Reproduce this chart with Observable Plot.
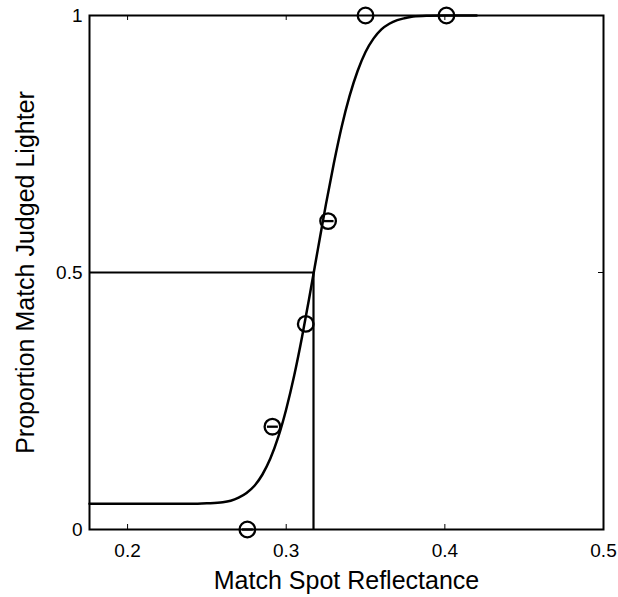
<!DOCTYPE html>
<html><head><meta charset="utf-8">
<script src="https://cdn.jsdelivr.net/npm/d3@7"></script>
<script src="https://cdn.jsdelivr.net/npm/@observablehq/plot@0.6"></script>
<style>body{margin:0;background:#fff}</style>
</head><body><div id="chart"></div>
<script>
// Observed data points
const pointX = [0.2755, 0.2913, 0.3123, 0.3264, 0.350, 0.401];
const pointY = [0, 0.2, 0.4, 0.6, 1, 1];
const pointDash = [true, true, false, true, false, false];
// Fitted psychometric curve
const curveX = [0.176, 0.20, 0.22, 0.24, 0.25, 0.26, 0.265, 0.27, 0.275, 0.28, 0.285, 0.29, 0.295, 0.30, 0.305, 0.31, 0.315, 0.32, 0.325, 0.33, 0.335, 0.34, 0.345, 0.35, 0.355, 0.36, 0.365, 0.37, 0.375, 0.38, 0.39, 0.40, 0.42];
const curveY = [0.050, 0.050, 0.050, 0.050, 0.051, 0.053, 0.056, 0.062, 0.071, 0.085, 0.107, 0.138, 0.180, 0.234, 0.299, 0.375, 0.459, 0.546, 0.632, 0.712, 0.784, 0.844, 0.892, 0.929, 0.955, 0.973, 0.984, 0.991, 0.995, 0.998, 0.9995, 1.0, 1.0];
// Point of subjective equality
const pseX = [0.3172];
const pseY = [0.5];
const xTicks = [0.2, 0.3, 0.4, 0.5];
const yTicks = [0, 0.5, 1];
const xDomain = [0.176, 0.5];
const yDomain = [0, 1];
const xTitle = "Match Spot Reflectance";
const yTitle = "Proportion Match Judged Lighter";

const points = pointX.map((x, i) => ({x, y: pointY[i], dash: pointDash[i]}));
const curve = curveX.map((x, i) => ({x, y: curveY[i]}));

const W = 618, H = 597, mT = 15, mB = 68, mL = 89, mR = 15;
const plotH = H - mT - mB, plotW = W - mL - mR;
const font = "'Liberation Sans', Arial, Helvetica, sans-serif";

const minus = {
  draw(context, size) {
    const r = Math.sqrt(size / Math.PI) * 0.7;
    context.moveTo(-r, 0);
    context.lineTo(r, 0);
  }
};

const chart = Plot.plot({
  width: W, height: H,
  marginTop: mT, marginBottom: mB, marginLeft: mL, marginRight: mR,
  style: {fontFamily: font, fontSize: "19px", background: "#fff", color: "#000"},
  x: {domain: xDomain},
  y: {domain: yDomain},
  marks: [
    Plot.tickX(xTicks, {x: d => d, insetTop: plotH - 5, stroke: "#000", strokeWidth: 1}),
    Plot.tickX(xTicks, {x: d => d, insetBottom: plotH - 5, stroke: "#000", strokeWidth: 1}),
    Plot.tickY(yTicks, {y: d => d, insetRight: plotW - 5, stroke: "#000", strokeWidth: 1}),
    Plot.tickY(yTicks, {y: d => d, insetLeft: plotW - 5, stroke: "#000", strokeWidth: 1}),
    Plot.axisX(xTicks, {tickSize: 0, tickPadding: 14, fontSize: 19, label: null, fill: "#000", tickFormat: d => String(d)}),
    Plot.axisY(yTicks, {tickSize: 0, tickPadding: 7, fontSize: 19, label: null, fill: "#000", tickFormat: d => String(d)}),
    Plot.ruleX(pseX, {x: d => d, y1: yDomain[0], y2: pseY[0], stroke: "#000", strokeWidth: 2.2}),
    Plot.ruleY(pseY, {y: d => d, x1: xDomain[0], x2: pseX[0], stroke: "#000", strokeWidth: 2.2}),
    Plot.line(curve, {x: "x", y: "y", curve: "monotone-x", stroke: "#000", strokeWidth: 2.5}),
    Plot.dot(points, {x: "x", y: "y", r: 7.8, stroke: "#000", strokeWidth: 2.3, fill: "none"}),
    Plot.dot(points.filter(d => d.dash), {x: "x", y: "y", r: 7.8, symbol: minus, stroke: "#000", strokeWidth: 2.3, fill: "none"}),
    Plot.frame({stroke: "#000", strokeWidth: 2}),
    Plot.text([xTitle], {text: d => d, frameAnchor: "bottom", dy: 59, lineAnchor: "bottom", textAnchor: "middle", fontSize: 25, fill: "#000"}),
    Plot.text([yTitle], {text: d => d, frameAnchor: "left", dx: -64, rotate: -90, textAnchor: "middle", lineAnchor: "middle", fontSize: 25, fill: "#000"})
  ]
});
document.getElementById("chart").appendChild(chart);
</script>
</body></html>
